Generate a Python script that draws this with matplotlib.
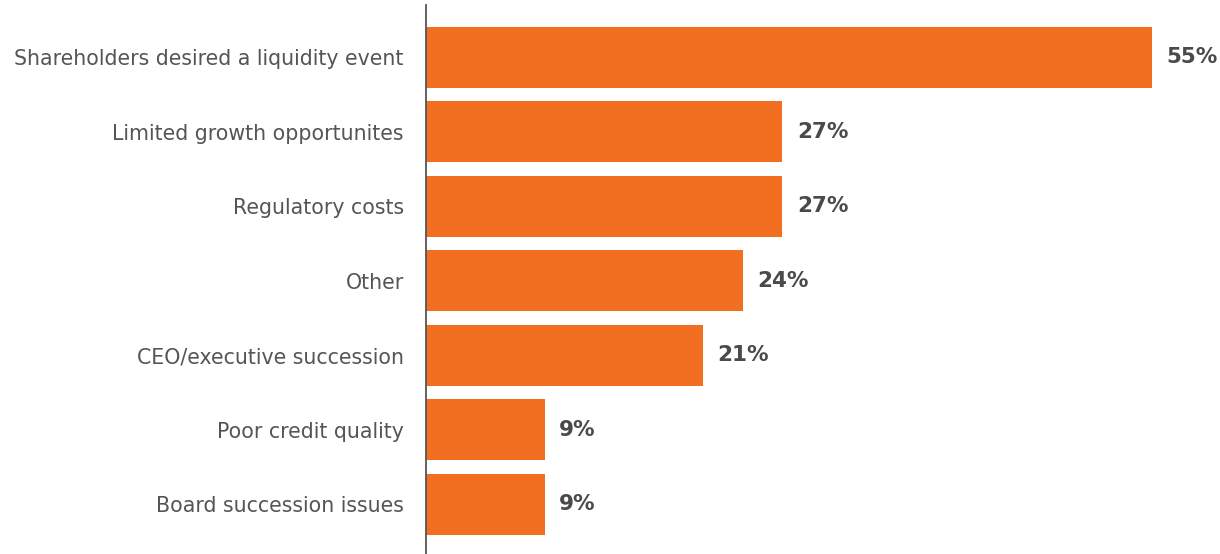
import matplotlib.pyplot as plt

categories = ['Shareholders desired a liquidity event', 'Limited growth opportunites',
              'Regulatory costs', 'Other', 'CEO/executive succession',
              'Poor credit quality', 'Board succession issues']
values = [55, 27, 27, 24, 21, 9, 9]

bar_color = '#F26F21'
text_color = '#555555'

fig = plt.figure(figsize=(12.2, 5.54), dpi=100)
ax = fig.add_axes([426 / 1220, 0, 1 - 426 / 1220, 549 / 554])

pos = list(range(len(categories)))
ax.barh(pos, values, height=0.82, color=bar_color)
ax.set_xlim(0, 794 / 13.2)
ax.set_ylim(6.67, -0.70)

for p, v in zip(pos, values):
    ax.text(v + 1.1, p, f'{v}%', va='center', ha='left', fontsize=15.5,
            fontweight='bold', color='#4a4a4a')

ax.set_yticks(pos)
ax.set_yticklabels(categories, fontsize=14.8, color=text_color)
ax.tick_params(axis='y', length=0, pad=16)
ax.set_xticks([])
for s in ['top', 'right', 'bottom']:
    ax.spines[s].set_visible(False)
ax.spines['left'].set_color('#555555')
ax.spines['left'].set_linewidth(1.3)

fig.savefig('out.png', dpi=100)
